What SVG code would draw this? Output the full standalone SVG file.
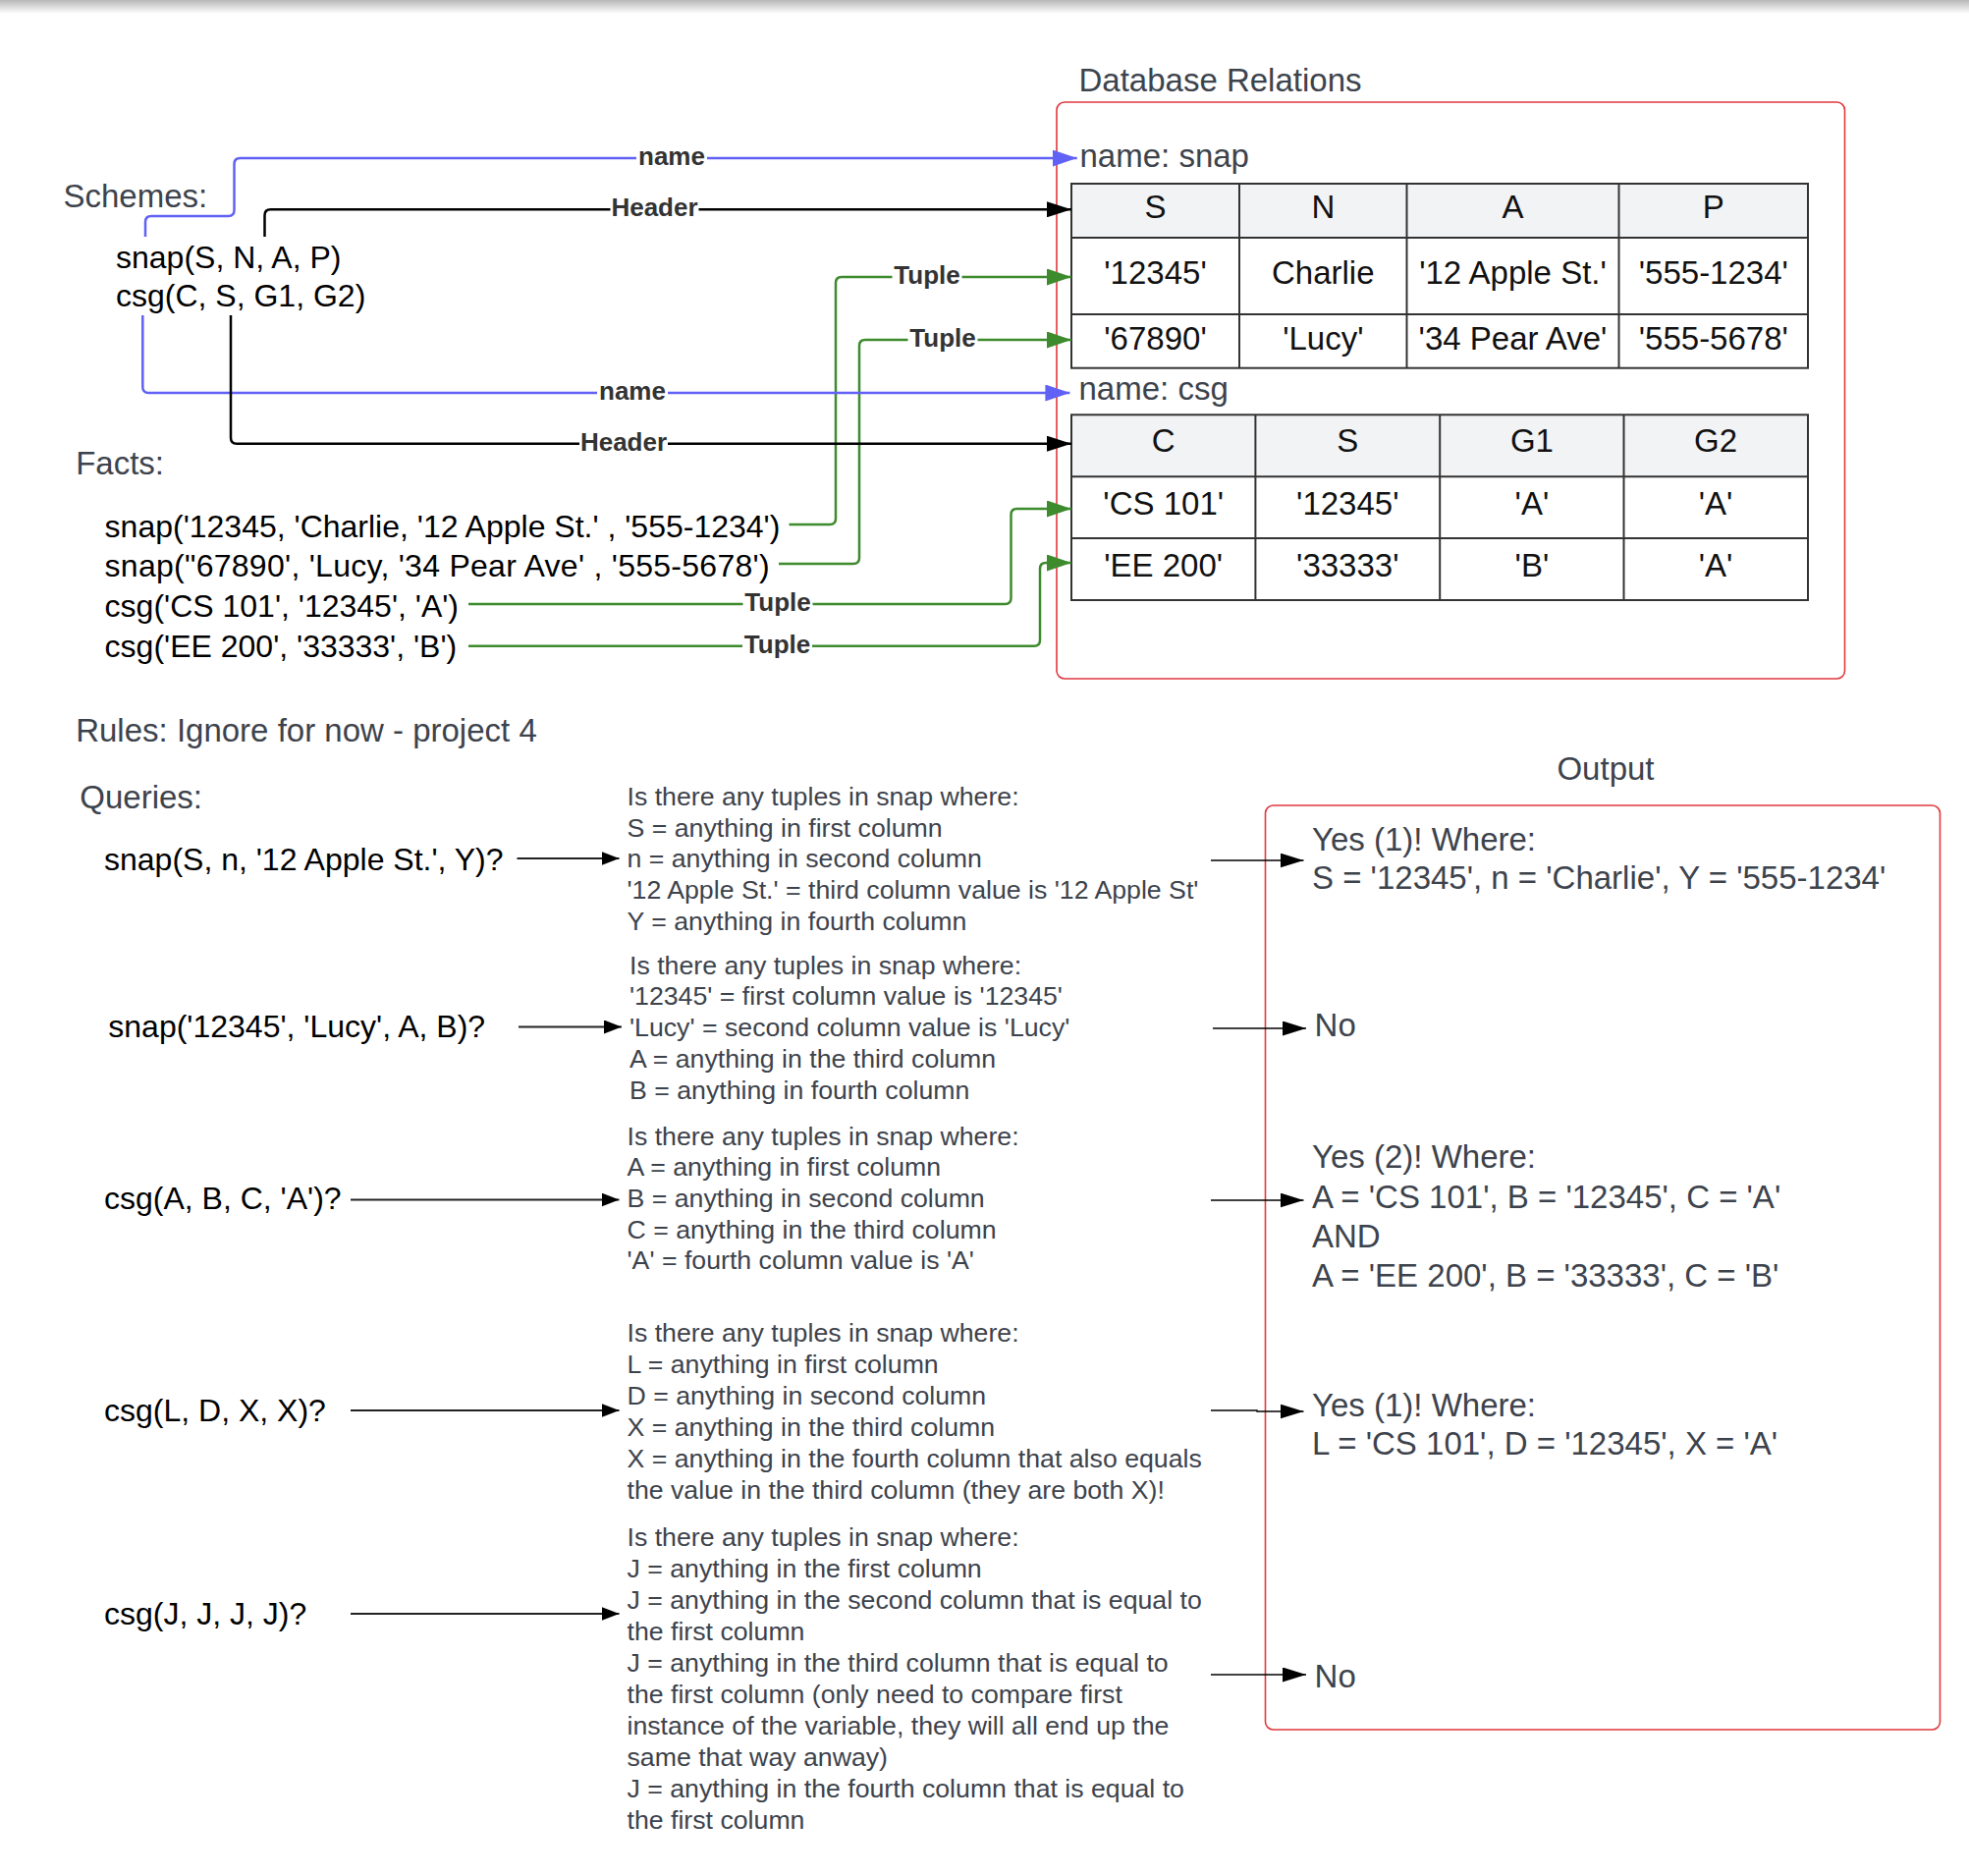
<svg xmlns="http://www.w3.org/2000/svg" width="2005" height="1910" viewBox="0 0 2005 1910">
<defs>
<linearGradient id="shadow" x1="0" y1="0" x2="0" y2="1">
<stop offset="0" stop-color="#b8b8b8"/>
<stop offset="1" stop-color="#ffffff"/>
</linearGradient>
<marker id="ab" viewBox="0 0 25 17" refX="25" refY="8.5" markerWidth="25" markerHeight="17" markerUnits="userSpaceOnUse" orient="auto"><path d="M0,0 L25,8.5 L0,17 z" fill="#6161f5"/></marker>
<marker id="ak" viewBox="0 0 25 16" refX="25" refY="8" markerWidth="25" markerHeight="16" markerUnits="userSpaceOnUse" orient="auto"><path d="M0,0 L25,8 L0,16 z" fill="#000"/></marker>
<marker id="ag" viewBox="0 0 25 17" refX="25" refY="8.5" markerWidth="25" markerHeight="17" markerUnits="userSpaceOnUse" orient="auto"><path d="M0,0 L25,8.5 L0,17 z" fill="#3d8b2d"/></marker>
<marker id="at" viewBox="0 0 24 15" refX="24" refY="7.5" markerWidth="24" markerHeight="15" markerUnits="userSpaceOnUse" orient="auto"><path d="M0,0 L24,7.5 L0,15 z" fill="#000"/></marker>
<marker id="aq" viewBox="0 0 18 14" refX="18" refY="7" markerWidth="18" markerHeight="14" markerUnits="userSpaceOnUse" orient="auto"><path d="M0,0 L18,7 L0,14 z" fill="#000"/></marker>
</defs>
<style>
text{font-family:"Liberation Sans",Arial,sans-serif;}
.title{font-size:33px;fill:#3d434c;}
.code{font-size:32px;fill:#000;}
.desc{font-size:26.7px;fill:#3d434c;}
.out{font-size:33px;fill:#3d434c;}
.cell{font-size:33px;fill:#111;text-anchor:middle;}
.lbl{font-size:26px;font-weight:bold;fill:#333;text-anchor:middle;}
.lblbg{fill:#fff;}
.frame{fill:none;stroke:#e0393e;stroke-width:1.6;}
.tb{stroke:#333;stroke-width:2;}
.hdr{fill:#f2f3f5;}
.blue{fill:none;stroke:#6161f5;stroke-width:2.5;marker-end:url(#ab);}
.blk{fill:none;stroke:#000;stroke-width:2.5;marker-end:url(#ak);}
.grn{fill:none;stroke:#3d8b2d;stroke-width:2.5;marker-end:url(#ag);}
.thin{fill:none;stroke:#000;stroke-width:1.4;marker-end:url(#at);}
.qa{fill:none;stroke:#222;stroke-width:2;marker-end:url(#aq);}
</style>
<rect x="0" y="0" width="2005" height="1910" fill="#fff"/>
<rect x="0" y="0" width="2005" height="14" fill="url(#shadow)"/>

<g id="schemes">
<text class="title" x="64.5" y="210.7">Schemes:</text>
<text class="code" x="118" y="273.3">snap(S, N, A, P)</text>
<text class="code" x="118" y="311.7">csg(C, S, G1, G2)</text>
</g>

<g id="facts">
<text class="title" x="77.2" y="482.7">Facts:</text>
<text class="code" x="106.6" y="546.7">snap('12345, 'Charlie, '12 Apple St.' , '555-1234')</text>
<text class="code" x="106.6" y="587.3" textLength="677" lengthAdjust="spacing">snap("67890', 'Lucy, '34 Pear Ave' , '555-5678')</text>
<text class="code" x="106.6" y="628.3">csg('CS 101', '12345', 'A')</text>
<text class="code" x="106.6" y="669.3">csg('EE 200', '33333', 'B')</text>
</g>

<g id="rules">
<text class="title" x="77.2" y="755">Rules: Ignore for now - project 4</text>
</g>

<g id="database-relations">
<text class="title" x="1098.5" y="92.7">Database Relations</text>
<rect class="frame" x="1076" y="104" width="802.5" height="587" rx="8"/>
<text class="title" x="1099.5" y="170">name: snap</text>
<text class="title" x="1098.5" y="406.5">name: csg</text>
</g>

<g id="snap-table">
<rect class="hdr" x="1091" y="187" width="750" height="55"/>
<rect x="1091" y="187" width="750" height="187.7" fill="none" class="tb"/>
<line class="tb" x1="1091" y1="242" x2="1841" y2="242"/>
<line class="tb" x1="1091" y1="320" x2="1841" y2="320"/>
<line class="tb" x1="1262" y1="187" x2="1262" y2="374.7"/>
<line class="tb" x1="1432.5" y1="187" x2="1432.5" y2="374.7"/>
<line class="tb" x1="1648.5" y1="187" x2="1648.5" y2="374.7"/>
<text class="cell" x="1176.5" y="222">S</text>
<text class="cell" x="1347.3" y="222">N</text>
<text class="cell" x="1540.5" y="222">A</text>
<text class="cell" x="1744.8" y="222">P</text>
<text class="cell" x="1176.5" y="289.2">'12345'</text>
<text class="cell" x="1347.3" y="289.2">Charlie</text>
<text class="cell" x="1540.5" y="289.2">'12 Apple St.'</text>
<text class="cell" x="1744.8" y="289.2">'555-1234'</text>
<text class="cell" x="1176.5" y="355.6">'67890'</text>
<text class="cell" x="1347.3" y="355.6">'Lucy'</text>
<text class="cell" x="1540.5" y="355.6">'34 Pear Ave'</text>
<text class="cell" x="1744.8" y="355.6">'555-5678'</text>
</g>

<g id="csg-table">
<rect class="hdr" x="1091" y="422.3" width="750" height="63"/>
<rect x="1091" y="422.3" width="750" height="188.7" fill="none" class="tb"/>
<line class="tb" x1="1091" y1="485.3" x2="1841" y2="485.3"/>
<line class="tb" x1="1091" y1="548" x2="1841" y2="548"/>
<line class="tb" x1="1278.4" y1="422.3" x2="1278.4" y2="611"/>
<line class="tb" x1="1466.2" y1="422.3" x2="1466.2" y2="611"/>
<line class="tb" x1="1653.5" y1="422.3" x2="1653.5" y2="611"/>
<text class="cell" x="1184.7" y="460.4">C</text>
<text class="cell" x="1372.3" y="460.4">S</text>
<text class="cell" x="1559.9" y="460.4">G1</text>
<text class="cell" x="1747.1" y="460.4">G2</text>
<text class="cell" x="1184.7" y="523.5">'CS 101'</text>
<text class="cell" x="1372.3" y="523.5">'12345'</text>
<text class="cell" x="1559.9" y="523.5">'A'</text>
<text class="cell" x="1747.1" y="523.5">'A'</text>
<text class="cell" x="1184.7" y="587">'EE 200'</text>
<text class="cell" x="1372.3" y="587">'33333'</text>
<text class="cell" x="1559.9" y="587">'B'</text>
<text class="cell" x="1747.1" y="587">'A'</text>
</g>

<g id="queries">
<text class="title" x="81.3" y="822.5">Queries:</text>
<text class="code" x="106" y="885.7">snap(S, n, '12 Apple St.', Y)?</text>
<text class="code" x="110.3" y="1056.4">snap('12345', 'Lucy', A, B)?</text>
<text class="code" x="106" y="1231.4">csg(A, B, C, 'A')?</text>
<text class="code" x="106" y="1447">csg(L, D, X, X)?</text>
<text class="code" x="106" y="1654">csg(J, J, J, J)?</text>
</g>

<g id="explanations">
<text class="desc" x="638.5" y="820"><tspan x="638.5">Is there any tuples in snap where:</tspan><tspan x="638.5" dy="31.7">S = anything in first column</tspan><tspan x="638.5" dy="31.7">n = anything in second column</tspan><tspan x="638.5" dy="31.7">'12 Apple St.' = third column value is '12 Apple St'</tspan><tspan x="638.5" dy="31.7">Y = anything in fourth column</tspan></text>
<text class="desc" x="641" y="991.5"><tspan x="641">Is there any tuples in snap where:</tspan><tspan x="641" dy="31.9">'12345' = first column value is '12345'</tspan><tspan x="641" dy="31.9">'Lucy' = second column value is 'Lucy'</tspan><tspan x="641" dy="31.9">A = anything in the third column</tspan><tspan x="641" dy="31.9">B = anything in fourth column</tspan></text>
<text class="desc" x="638.5" y="1165.5"><tspan x="638.5">Is there any tuples in snap where:</tspan><tspan x="638.5" dy="31.7">A = anything in first column</tspan><tspan x="638.5" dy="31.7">B = anything in second column</tspan><tspan x="638.5" dy="31.7">C = anything in the third column</tspan><tspan x="638.5" dy="31.7">'A' = fourth column value is 'A'</tspan></text>
<text class="desc" x="638.5" y="1366"><tspan x="638.5">Is there any tuples in snap where:</tspan><tspan x="638.5" dy="31.9">L = anything in first column</tspan><tspan x="638.5" dy="31.9">D = anything in second column</tspan><tspan x="638.5" dy="31.9">X = anything in the third column</tspan><tspan x="638.5" dy="31.9">X = anything in the fourth column that also equals</tspan><tspan x="638.5" dy="31.9">the value in the third column (they are both X)!</tspan></text>
<text class="desc" x="638.5" y="1574.3"><tspan x="638.5">Is there any tuples in snap where:</tspan><tspan x="638.5" dy="31.97">J = anything in the first column</tspan><tspan x="638.5" dy="31.97">J = anything in the second column that is equal to</tspan><tspan x="638.5" dy="31.97">the first column</tspan><tspan x="638.5" dy="31.97">J = anything in the third column that is equal to</tspan><tspan x="638.5" dy="31.97">the first column (only need to compare first</tspan><tspan x="638.5" dy="31.97">instance of the variable, they will all end up the</tspan><tspan x="638.5" dy="31.97">same that way anway)</tspan><tspan x="638.5" dy="31.97">J = anything in the fourth column that is equal to</tspan><tspan x="638.5" dy="31.97">the first column</tspan></text>
</g>

<g id="output">
<text class="title" x="1635" y="794" text-anchor="middle">Output</text>
<rect class="frame" x="1288.5" y="820" width="687" height="941" rx="8"/>
<text class="out" x="1336" y="865.5">Yes (1)! Where:</text>
<text class="out" x="1336" y="904.5">S = '12345', n = 'Charlie', Y = '555-1234'</text>
<text class="out" x="1338.6" y="1055">No</text>
<text class="out" x="1336" y="1189">Yes (2)! Where:</text>
<text class="out" x="1336" y="1230">A = 'CS 101', B = '12345', C = 'A'</text>
<text class="out" x="1336" y="1269.5">AND</text>
<text class="out" x="1336" y="1310">A = 'EE 200', B = '33333', C = 'B'</text>
<text class="out" x="1336" y="1442">Yes (1)! Where:</text>
<text class="out" x="1336" y="1481">L = 'CS 101', D = '12345', X = 'A'</text>
<text class="out" x="1338.6" y="1718">No</text>
</g>

<g id="connectors">
<path class="blue" d="M148,241 V226 Q148,220 154,220 H232.5 Q238.5,220 238.5,214 V167 Q238.5,161 244.5,161 H1096.7"/>
<path class="blk" d="M269.5,241 V219.3 Q269.5,213.3 275.5,213.3 H1091"/>
<path class="grn" d="M803.5,534 H845 Q851,534 851,528 V288 Q851,282 857,282 H1091"/>
<path class="grn" d="M793,574 H869 Q875,574 875,568 V352 Q875,346 881,346 H1091"/>
<path class="blue" d="M145.3,321 V394 Q145.3,400 151.3,400 H1089.4"/>
<path class="blk" d="M235,321 V445.7 Q235,451.7 241,451.7 H1091"/>
<path class="grn" d="M477,615 H1023.5 Q1029.5,615 1029.5,609 V524 Q1029.5,518 1035.5,518 H1091"/>
<path class="grn" d="M477,657.7 H1053 Q1059,657.7 1059,651.7 V579 Q1059,573 1065,573 H1091"/>
<rect class="lblbg" x="648" y="147" width="72" height="28"/>
<text class="lbl" x="684" y="168">name</text>
<rect class="lblbg" x="621.5" y="199" width="90" height="28"/>
<text class="lbl" x="666.5" y="220.3">Header</text>
<rect class="lblbg" x="908.5" y="268" width="71" height="30"/>
<text class="lbl" x="944" y="289">Tuple</text>
<rect class="lblbg" x="924.5" y="332" width="71" height="30"/>
<text class="lbl" x="960" y="353">Tuple</text>
<rect class="lblbg" x="608" y="386" width="72" height="28"/>
<text class="lbl" x="644" y="407">name</text>
<rect class="lblbg" x="590" y="437.7" width="90" height="28"/>
<text class="lbl" x="635" y="458.7">Header</text>
<rect class="lblbg" x="756.5" y="601" width="71" height="30"/>
<text class="lbl" x="792" y="622">Tuple</text>
<rect class="lblbg" x="756" y="643.7" width="71" height="30"/>
<text class="lbl" x="791.5" y="664.7">Tuple</text>
<path class="qa" d="M526.5,874 H630.5"/>
<path class="qa" d="M528,1045.5 H633"/>
<path class="qa" d="M357,1221.5 H630.5"/>
<path class="qa" d="M357,1436 H630.5"/>
<path class="qa" d="M357,1643 H630.5"/>
<path class="thin" d="M1233,876 H1327.5"/>
<path class="thin" d="M1235,1047 H1330"/>
<path class="thin" d="M1233,1222 H1327.5"/>
<path class="thin" d="M1233,1436 H1280 V1437 H1327.5"/>
<path class="thin" d="M1233,1705 H1330"/>
</g>
</svg>
